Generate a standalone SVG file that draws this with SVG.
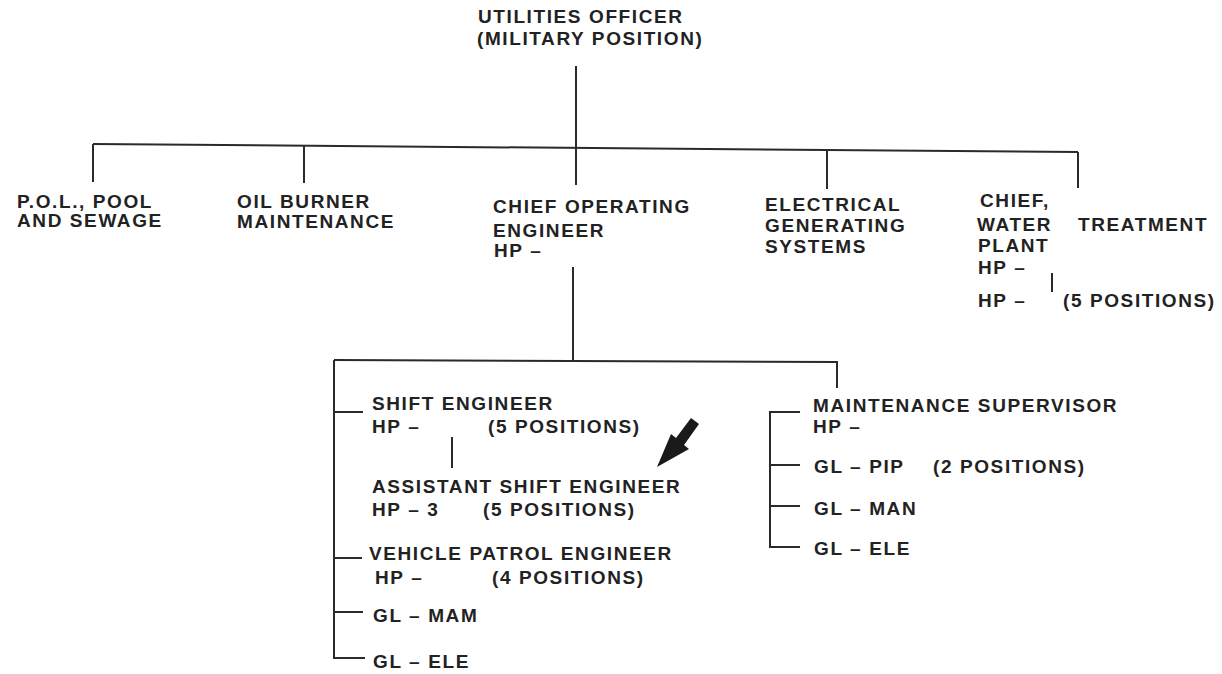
<svg xmlns="http://www.w3.org/2000/svg" width="1222" height="674" viewBox="0 0 1222 674">
<style>
text{font-family:"Liberation Sans",Arial,sans-serif;font-weight:bold;font-size:19px;letter-spacing:1.6px;fill:#222}
.c line,.c polyline{stroke:#2a2a2a;stroke-width:2;fill:none}
</style>
<rect width="1222" height="674" fill="#fff"/>
<g id="connectors" class="c">
<line x1="576" y1="66" x2="576" y2="185"/>
<line x1="93" y1="144" x2="1078" y2="152"/>
<line x1="93" y1="144" x2="93" y2="182"/>
<line x1="304" y1="146" x2="304" y2="183"/>
<line x1="827" y1="150" x2="827" y2="189"/>
<line x1="1078" y1="152" x2="1078" y2="188"/>
<line x1="1052" y1="273" x2="1052" y2="292"/>
<line x1="573" y1="267" x2="573" y2="361"/>
<polyline points="334,360 837,362 837,388"/>
<line x1="334" y1="360" x2="334" y2="658"/>
<line x1="334" y1="412" x2="363" y2="412"/>
<line x1="334" y1="558" x2="362" y2="558"/>
<line x1="334" y1="612" x2="363" y2="612"/>
<line x1="333" y1="658" x2="365" y2="658"/>
<line x1="452" y1="437" x2="452" y2="468"/>
<line x1="770" y1="411" x2="770" y2="548"/>
<line x1="769" y1="412" x2="800" y2="412"/>
<line x1="770" y1="465" x2="800" y2="465"/>
<line x1="770" y1="506" x2="800" y2="506"/>
<line x1="769" y1="547" x2="800" y2="547"/>
<polygon points="691,418 699,424 684,445 689,449 657,467 671,434 676,438" fill="#1a1a1a"/>
</g>
<g id="utilities-officer">
<text x="478" y="23">UTILITIES OFFICER</text>
<text x="477" y="45">(MILITARY POSITION)</text>
</g>
<g id="pol-pool-sewage">
<text x="17" y="208">P.O.L., POOL</text>
<text x="17" y="227">AND SEWAGE</text>
</g>
<g id="oil-burner">
<text x="237" y="208">OIL BURNER</text>
<text x="237" y="228">MAINTENANCE</text>
</g>
<g id="chief-operating-engineer">
<text x="493" y="213">CHIEF OPERATING</text>
<text x="493" y="237">ENGINEER</text>
<text x="494" y="257">HP –</text>
</g>
<g id="electrical">
<text x="765" y="211">ELECTRICAL</text>
<text x="765" y="232">GENERATING</text>
<text x="765" y="253">SYSTEMS</text>
</g>
<g id="chief-water">
<text x="980" y="207">CHIEF,</text>
<text x="977" y="231">WATER</text>
<text x="1078" y="231">TREATMENT</text>
<text x="978" y="252">PLANT</text>
<text x="978" y="274">HP –</text>
</g>
<g id="water-positions">
<text x="978" y="307">HP –</text>
<text x="1063" y="307">(5 POSITIONS)</text>
</g>
<g id="shift-engineer">
<text x="372" y="410">SHIFT ENGINEER</text>
<text x="372" y="433">HP –</text>
<text x="488" y="433">(5 POSITIONS)</text>
</g>
<g id="assistant-shift-engineer">
<text x="372" y="493">ASSISTANT SHIFT ENGINEER</text>
<text x="372" y="516">HP – 3</text>
<text x="483" y="516">(5 POSITIONS)</text>
</g>
<g id="vehicle-patrol-engineer">
<text x="369" y="560">VEHICLE PATROL ENGINEER</text>
<text x="375" y="584">HP –</text>
<text x="492" y="584">(4 POSITIONS)</text>
</g>
<g id="gl-mam"><text x="373" y="622">GL – MAM</text></g>
<g id="gl-ele-left"><text x="373" y="668">GL – ELE</text></g>
<g id="maintenance-supervisor">
<text x="813" y="412">MAINTENANCE SUPERVISOR</text>
<text x="813" y="433">HP –</text>
</g>
<g id="gl-pip">
<text x="814" y="473">GL – PIP</text>
<text x="933" y="473">(2 POSITIONS)</text>
</g>
<g id="gl-man"><text x="814" y="515">GL – MAN</text></g>
<g id="gl-ele-right"><text x="814" y="555">GL – ELE</text></g>
</svg>
